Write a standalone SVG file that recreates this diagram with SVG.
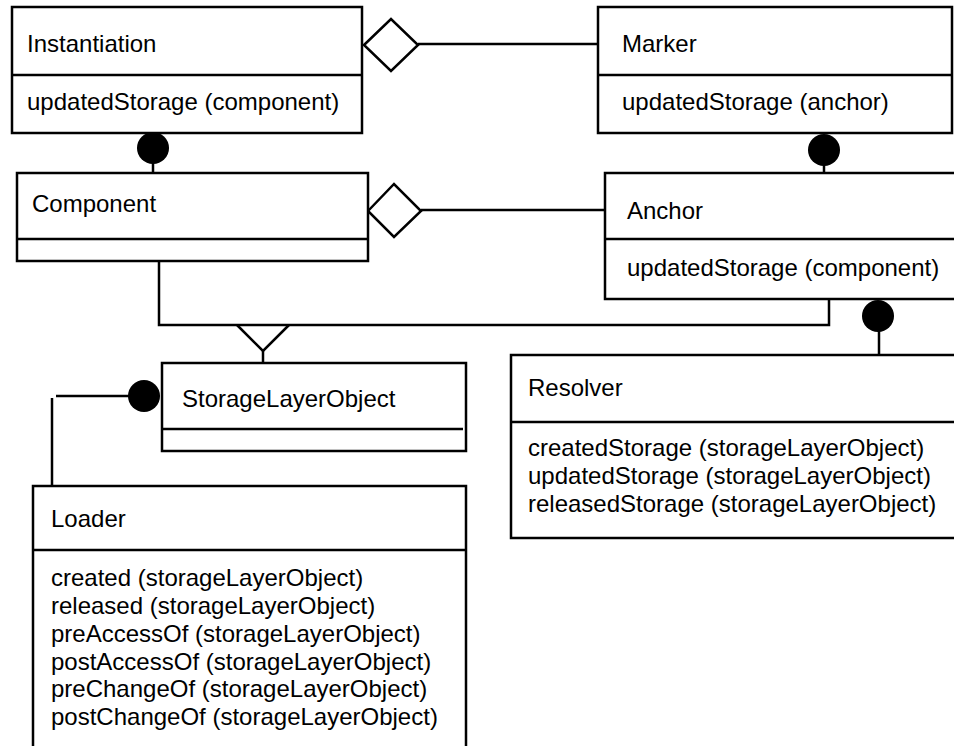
<svg xmlns="http://www.w3.org/2000/svg" width="954" height="746" viewBox="0 0 954 746">
<style>
.box{fill:#fff;stroke:#000;stroke-width:2.5}
.div{stroke:#000;stroke-width:2.5;fill:none}
.ln{stroke:#000;stroke-width:2.5;fill:none}
.dia{fill:#fff;stroke:#000;stroke-width:2.5;stroke-linejoin:miter}
.dot{fill:#000;stroke:none}
text{font-family:"Liberation Sans",Arial,sans-serif;font-size:24px;fill:#000}
</style>
<rect width="954" height="746" fill="#fff"/>
<g id="connectors">
<line class="ln" x1="418" y1="44" x2="598" y2="44"/>
<polygon class="dia" points="364,45 391,19 418,45 391,71"/>
<line class="ln" x1="421" y1="210" x2="605" y2="210"/>
<polygon class="dia" points="368,211 394,184 421,211 394,237"/>
<line class="ln" x1="153" y1="160" x2="153" y2="173"/>
<circle class="dot" cx="153" cy="148" r="16"/>
<line class="ln" x1="824" y1="160" x2="824" y2="173"/>
<circle class="dot" cx="824" cy="150" r="16"/>
<path class="ln" d="M159,261 V325 H829 V299"/>
<polyline class="ln" points="237,325 263,351 289,325"/>
<line class="ln" x1="263" y1="351" x2="263" y2="363"/>
<line class="ln" x1="879" y1="325" x2="879" y2="355"/>
<circle class="dot" cx="878" cy="316" r="16"/>
<line class="ln" x1="135" y1="396" x2="56" y2="396"/>
<line class="ln" x1="52" y1="398" x2="52" y2="486"/>
<circle class="dot" cx="144" cy="396" r="16"/>
</g>
<g id="instantiation">
<rect class="box" x="12" y="7" width="350" height="126"/>
<line class="div" x1="12" y1="75" x2="362" y2="75"/>
<text x="27" y="52">Instantiation</text>
<text x="27" y="110">updatedStorage (component)</text>
</g>
<g id="marker">
<rect class="box" x="598" y="7" width="354" height="126"/>
<line class="div" x1="598" y1="75" x2="951" y2="75"/>
<text x="622" y="52">Marker</text>
<text x="622" y="110">updatedStorage (anchor)</text>
</g>
<g id="component">
<rect class="box" x="17" y="173" width="351" height="88"/>
<line class="div" x1="17" y1="239" x2="368" y2="239"/>
<text x="32" y="212">Component</text>
</g>
<g id="anchor">
<rect class="box" x="605" y="173" width="360" height="126"/>
<line class="div" x1="605" y1="239" x2="960" y2="239"/>
<text x="627" y="219">Anchor</text>
<text x="627" y="276">updatedStorage (component)</text>
</g>
<g id="storageLayerObject">
<rect class="box" x="162" y="363" width="304" height="88"/>
<line class="div" x1="162" y1="429" x2="463" y2="429"/>
<text x="182" y="407">StorageLayerObject</text>
</g>
<g id="resolver">
<rect class="box" x="511" y="355" width="460" height="183"/>
<line class="div" x1="511" y1="422" x2="960" y2="422"/>
<text x="528" y="396">Resolver</text>
<text x="528" y="456">createdStorage (storageLayerObject)</text>
<text x="528" y="484">updatedStorage (storageLayerObject)</text>
<text x="528" y="512">releasedStorage (storageLayerObject)</text>
</g>
<g id="loader">
<rect class="box" x="33" y="486" width="433" height="280"/>
<line class="div" x1="33" y1="550" x2="466" y2="550"/>
<text x="51" y="527">Loader</text>
<text x="51" y="586">created (storageLayerObject)</text>
<text x="51" y="614">released (storageLayerObject)</text>
<text x="51" y="642">preAccessOf (storageLayerObject)</text>
<text x="51" y="670">postAccessOf (storageLayerObject)</text>
<text x="51" y="697">preChangeOf (storageLayerObject)</text>
<text x="51" y="725">postChangeOf (storageLayerObject)</text>
</g>
</svg>
